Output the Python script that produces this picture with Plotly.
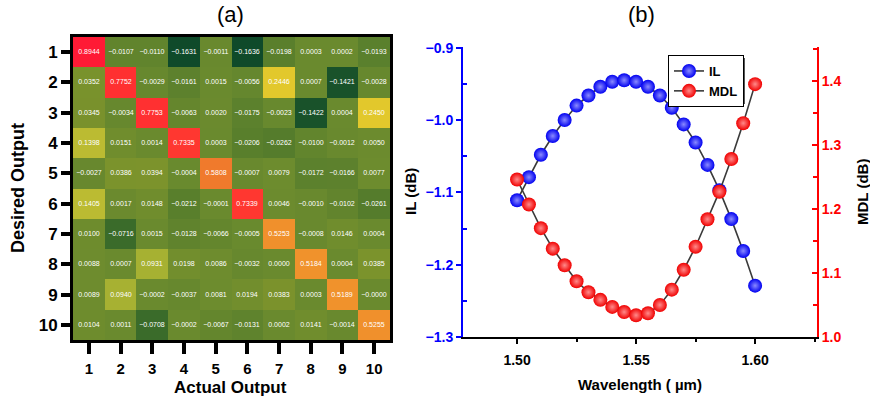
import plotly.graph_objects as go

# ---------------- data ----------------
actual_labels = ["1", "2", "3", "4", "5", "6", "7", "8", "9", "10"]
desired_labels = ["1", "2", "3", "4", "5", "6", "7", "8", "9", "10"]

row1 = [0.8944, -0.0107, -0.0110, -0.1631, -0.0011, -0.1636, -0.0198, 0.0003, 0.0002, -0.0193]
row2 = [0.0352, 0.7752, -0.0029, -0.0161, 0.0015, -0.0056, 0.2446, 0.0007, -0.1421, -0.0028]
row3 = [0.0345, -0.0034, 0.7753, -0.0063, 0.0020, -0.0175, -0.0023, -0.1422, 0.0004, 0.2450]
row4 = [0.1398, 0.0151, 0.0014, 0.7335, 0.0003, -0.0206, -0.0262, -0.0100, -0.0012, 0.0050]
row5 = [-0.0027, 0.0386, 0.0394, -0.0004, 0.5808, -0.0007, 0.0079, -0.0172, -0.0166, 0.0077]
row6 = [0.1405, 0.0017, 0.0148, -0.0212, -0.0001, 0.7339, 0.0046, -0.0010, -0.0102, -0.0261]
row7 = [0.0100, -0.0716, 0.0015, -0.0128, -0.0066, -0.0005, 0.5253, -0.0008, 0.0146, 0.0004]
row8 = [0.0088, 0.0007, 0.0931, 0.0198, 0.0086, -0.0032, 0.0000, 0.5184, 0.0004, 0.0385]
row9 = [0.0089, 0.0940, -0.0002, -0.0037, 0.0081, 0.0194, 0.0383, 0.0003, 0.5189, -0.00004]
row10 = [0.0104, 0.0011, -0.0708, -0.0002, -0.0067, -0.0131, 0.0002, 0.0141, -0.0014, 0.5255]
matrix = [row1, row2, row3, row4, row5, row6, row7, row8, row9, row10]

wavelength = [1.500, 1.505, 1.510, 1.515, 1.520, 1.525, 1.530, 1.535, 1.540, 1.545, 1.550,
              1.555, 1.560, 1.565, 1.570, 1.575, 1.580, 1.585, 1.590, 1.595, 1.600]
il_db = [-1.111, -1.079, -1.048, -1.022, -1.000, -0.980, -0.966, -0.954, -0.947, -0.945, -0.947,
         -0.954, -0.966, -0.983, -1.006, -1.031, -1.062, -1.097, -1.137, -1.181, -1.229]
mdl_db = [1.246, 1.207, 1.170, 1.138, 1.112, 1.087, 1.070, 1.058, 1.047, 1.039, 1.034,
          1.037, 1.050, 1.074, 1.105, 1.141, 1.184, 1.227, 1.278, 1.334, 1.395]

# ---------------- figure ----------------
FONT = "Liberation Sans"
W, H = 870, 398

cell_text = [[f"{v:.4f}".replace("-", "\u2212") for v in r] for r in matrix]

colorscale = [
    [0.0, "#0f4a2a"], [0.087, "#3a6b2a"], [0.13, "#557c2c"], [0.155, "#6a8a2e"],
    [0.19, "#7a922c"], [0.245, "#a8b232"], [0.29, "#bcbc32"], [0.386, "#e2c82c"],
    [0.646, "#f0922c"], [0.703, "#f07a2c"], [0.845, "#ff3830"], [1.0, "#ff1a35"],
]

fig = go.Figure()

fig.add_trace(go.Heatmap(
    z=matrix, x=actual_labels, y=desired_labels,
    text=cell_text, texttemplate="%{text}",
    textfont=dict(family=FONT, size=7, color="white"),
    colorscale=colorscale, showscale=False,
    xaxis="x", yaxis="y", hoverinfo="skip", showlegend=False,
))

fig.add_trace(go.Scatter(
    x=wavelength, y=il_db, name="IL", mode="lines+markers",
    line=dict(color="#3a3a3a", width=1.6),
    marker=dict(size=14, color="#0000f0", gradient=dict(type="radial", color="#8a8aff"),
                line=dict(width=0)),
    xaxis="x2", yaxis="y2",
))
fig.add_trace(go.Scatter(
    x=wavelength, y=mdl_db, name="MDL", mode="lines+markers",
    line=dict(color="#3a3a3a", width=1.6),
    marker=dict(size=14, color="#f00000", gradient=dict(type="radial", color="#ff8a8a"),
                line=dict(width=0)),
    xaxis="x2", yaxis="y3",
))

def px_x(p):
    return p / W

def px_y(p):
    return 1 - p / H

hm_x = [px_x(73), px_x(390)]
hm_y = [px_y(340), px_y(37)]
rp_x = [px_x(463), px_x(817)]
rp_y = [px_y(337), px_y(47)]

bold17 = dict(family=FONT, size=17, color="black", weight="bold")
bold15 = dict(family=FONT, size=15, color="black", weight="bold")
bold14 = dict(family=FONT, size=14, color="black", weight="bold")

fig.update_layout(
    width=W, height=H,
    margin=dict(l=0, r=0, t=0, b=0, pad=0, autoexpand=False),
    paper_bgcolor="white", plot_bgcolor="white",
    font=dict(family=FONT),
    showlegend=True,
    legend=dict(
        x=px_x(668), y=px_y(55), xanchor="left", yanchor="top",
        bgcolor="white", bordercolor="black", borderwidth=1,
        font=dict(family=FONT, size=13, color="black", weight="bold"),
        itemwidth=30, tracegroupgap=0,
    ),
    xaxis=dict(
        domain=hm_x, anchor="y", type="category", automargin=False,
        showline=True, linecolor="black", linewidth=3, mirror=True,
        ticks="outside", ticklen=11, tickwidth=3.5, tickcolor="black",
        ticklabelstandoff=2,
        tickfont=bold15, showgrid=False, zeroline=False,
    ),
    yaxis=dict(
        domain=hm_y, anchor="x", type="category", autorange="reversed", automargin=False,
        showline=True, linecolor="black", linewidth=3, mirror=True,
        ticks="outside", ticklen=9, tickwidth=3.5, tickcolor="black",
        tickfont=bold17, showgrid=False, zeroline=False,
    ),
    xaxis2=dict(
        domain=rp_x, anchor="y2", range=[1.4773, 1.626], automargin=False,
        tickvals=[1.50, 1.55, 1.60], ticktext=["1.50", "1.55", "1.60"],
        showline=True, linecolor="black", linewidth=2,
        ticks="outside", ticklen=5, tickwidth=2, tickcolor="black",
        ticklabelstandoff=4,
        minor=dict(tickvals=[1.475, 1.525, 1.575, 1.625], ticks="outside", ticklen=3,
                   tickwidth=1.5, tickcolor="black", showgrid=False),
        tickfont=bold14, showgrid=False, zeroline=False,
    ),
    xaxis3=dict(
        overlaying="x2", anchor="y2", side="top", range=[1.4773, 1.626], automargin=False,
        tickvals=[1.50, 1.525, 1.55, 1.575, 1.60, 1.625],
        showticklabels=False, showline=True, linecolor="black", linewidth=2,
        ticks="inside", ticklen=5, tickwidth=2, tickcolor="black",
        showgrid=False, zeroline=False,
    ),
    yaxis2=dict(
        domain=rp_y, anchor="x2", range=[-1.3, -0.899], automargin=False,
        tickvals=[-1.3, -1.2, -1.1, -1.0, -0.9],
        ticktext=["\u22121.3", "\u22121.2", "\u22121.1", "\u22121.0", "\u22120.9"],
        showline=True, linecolor="#0000ff", linewidth=2,
        ticks="outside", ticklen=5, tickwidth=2, tickcolor="#0000ff",
        minor=dict(tickvals=[-1.25, -1.15, -1.05, -0.95], ticks="inside", ticklen=4,
                   tickwidth=1.5, tickcolor="#0000ff", showgrid=False),
        tickfont=dict(family=FONT, size=14, color="#0000ff", weight="bold"),
        showgrid=False, zeroline=False,
    ),
    yaxis3=dict(
        overlaying="y2", anchor="x2", side="right", range=[1.0, 1.453], automargin=False,
        tickvals=[1.0, 1.1, 1.2, 1.3, 1.4],
        ticktext=["1.0", "1.1", "1.2", "1.3", "1.4"],
        showline=True, linecolor="#ff0000", linewidth=2,
        ticks="inside", ticklen=5, tickwidth=2, tickcolor="#ff0000",
        minor=dict(tickvals=[1.05, 1.15, 1.25, 1.35, 1.45], ticks="inside", ticklen=4,
                   tickwidth=1.5, tickcolor="#ff0000", showgrid=False),
        tickfont=dict(family=FONT, size=14, color="#ff0000", weight="bold"),
        showgrid=False, zeroline=False,
    ),
)

# legend drop shadow
fig.add_shape(type="rect", xref="paper", yref="paper",
              x0=px_x(671), x1=px_x(745), y0=px_y(104), y1=px_y(58),
              fillcolor="#555555", line=dict(width=0), layer="above")

annots = [
    dict(text="(a)", x=px_x(230), y=px_y(15), yanchor="middle",
         font=dict(family=FONT, size=22, color="black")),
    dict(text="(b)", x=px_x(641), y=px_y(15), yanchor="middle",
         font=dict(family=FONT, size=22, color="black")),
    dict(text="Actual Output", x=px_x(231), y=px_y(387), yanchor="middle",
         font=dict(family=FONT, size=17, color="black", weight="bold")),
    dict(text="Desired Output", x=px_x(18), y=px_y(188), textangle=-90, yanchor="middle",
         font=dict(family=FONT, size=18, color="black", weight="bold")),
    dict(text="Wavelength ( \u00b5m)", x=px_x(640), y=px_y(384), yanchor="middle",
         font=dict(family=FONT, size=15, color="black", weight="bold")),
    dict(text="IL (dB)", x=px_x(410), y=px_y(192), textangle=-90, yanchor="middle",
         font=dict(family=FONT, size=15, color="black", weight="bold")),
    dict(text="MDL (dB)", x=px_x(862), y=px_y(192), textangle=-90, yanchor="middle",
         font=dict(family=FONT, size=15, color="black", weight="bold")),
]
for a in annots:
    fig.add_annotation(xref="paper", yref="paper", showarrow=False,
                       xanchor="center", **a)

page_fix = (
    "var d=document.documentElement, b=document.body;"
    "d.style.margin='0'; d.style.padding='0'; d.style.overflow='hidden';"
    "b.style.margin='0'; b.style.padding='0'; b.style.overflow='hidden';"
)

fig.write_html(
    "out.html",
    config={"displayModeBar": False},
    post_script=page_fix,
)
